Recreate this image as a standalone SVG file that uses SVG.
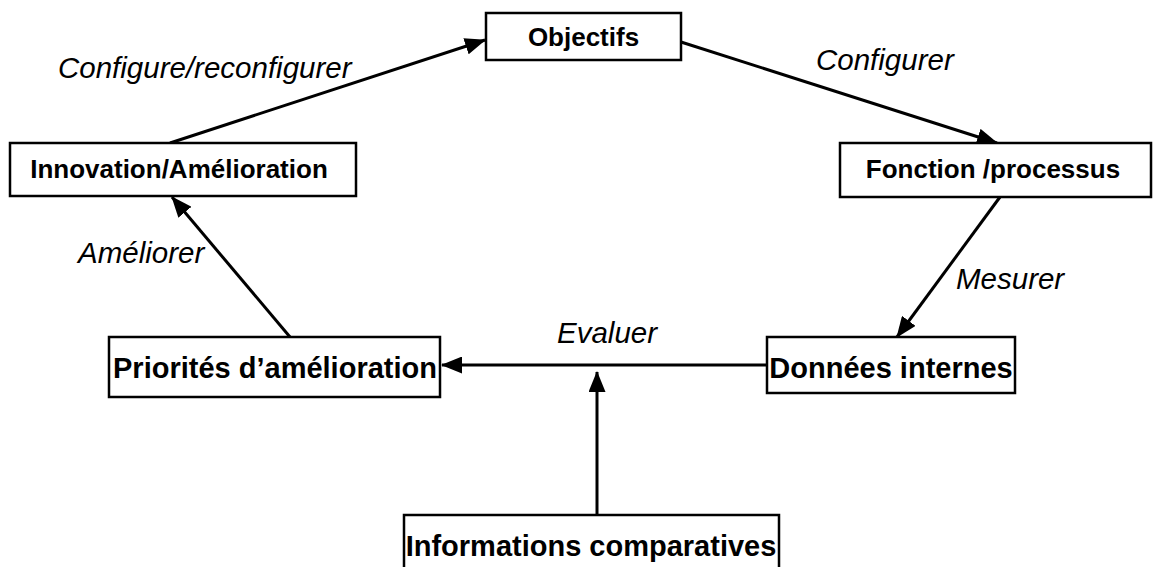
<svg xmlns="http://www.w3.org/2000/svg" width="1159" height="567" viewBox="0 0 1159 567">
  <style>
    .box { fill: #ffffff; stroke: #000000; stroke-width: 2.5; }
    .lbl { font-family: "Liberation Sans", Arial, sans-serif; font-weight: bold; fill: #000000; text-anchor: middle; }
    .small { font-size: 26px; }
    .big { font-size: 29px; }
    .edge { font-family: "Liberation Sans", Arial, sans-serif; font-style: italic; font-size: 29.5px; fill: #000000; }
    .conn { stroke: #000000; stroke-width: 3; fill: none; marker-end: url(#arrow); }
  </style>
  <defs>
    <marker id="arrow" markerUnits="userSpaceOnUse" markerWidth="21" markerHeight="17" refX="20" refY="8.5" orient="auto">
      <path d="M0,0 L21,8.5 L0,17 z" fill="#000000"/>
    </marker>
  </defs>
  <rect width="1159" height="567" fill="#ffffff"/>

  <g id="connectors">
    <line class="conn" x1="170" y1="143" x2="485" y2="40"/>
    <line class="conn" x1="681" y1="42" x2="997" y2="143"/>
    <line class="conn" x1="1000" y1="197" x2="897" y2="337"/>
    <line class="conn" x1="767" y1="365" x2="442" y2="365"/>
    <line class="conn" x1="597" y1="515" x2="597" y2="372"/>
    <line class="conn" x1="290" y1="337" x2="172" y2="197"/>
  </g>

  <g id="edge-labels">
    <text class="edge" x="58" y="78">Configure/reconfigurer</text>
    <text class="edge" x="816" y="70">Configurer</text>
    <text class="edge" x="78" y="263">Améliorer</text>
    <text class="edge" x="956" y="289">Mesurer</text>
    <text class="edge" x="557" y="343">Evaluer</text>
  </g>

  <g id="node-objectifs">
    <rect class="box" x="486" y="13" width="195" height="47"/>
    <text class="lbl small" x="583.5" y="46">Objectifs</text>
  </g>
  <g id="node-innovation">
    <rect class="box" x="10" y="143" width="346" height="53"/>
    <text class="lbl small" x="179" y="178">Innovation/Amélioration</text>
  </g>
  <g id="node-fonction">
    <rect class="box" x="840" y="143" width="311" height="54"/>
    <text class="lbl small" x="993" y="178">Fonction /processus</text>
  </g>
  <g id="node-priorites">
    <rect class="box" x="109" y="337" width="331" height="60"/>
    <text class="lbl big" x="275" y="378">Priorités d’amélioration</text>
  </g>
  <g id="node-donnees">
    <rect class="box" x="767" y="337" width="248" height="56"/>
    <text class="lbl big" x="891" y="378">Données internes</text>
  </g>
  <g id="node-informations">
    <rect class="box" x="404" y="515" width="375" height="60"/>
    <text class="lbl big" x="591" y="556">Informations comparatives</text>
  </g>
</svg>
